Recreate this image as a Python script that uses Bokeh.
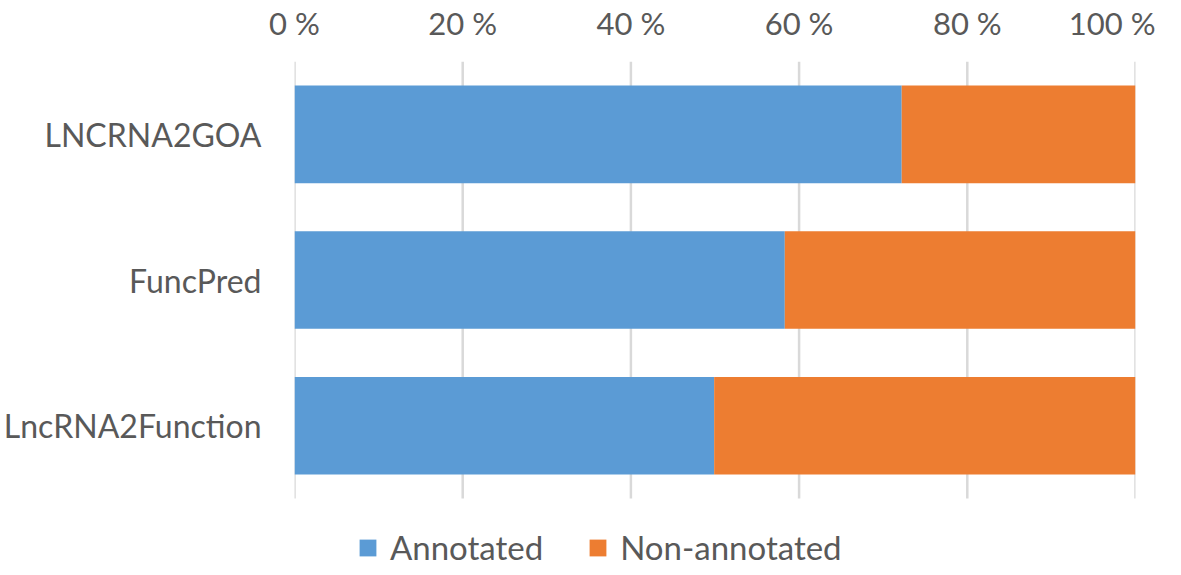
from bokeh.plotting import figure
from bokeh.models import (ColumnDataSource, Range1d, FixedTicker, Legend, LegendItem)
from bokeh.embed import file_html
from bokeh.resources import INLINE

# ---- data ----
methods = ["LncRNA2Function", "FuncPred", "LNCRNA2GOA"]   # bottom -> top
annotated = [49.9, 58.3, 72.2]
non_annotated = [50.1, 41.7, 27.8]
series = ["Annotated", "Non-annotated"]
tick_values = [0, 20, 40, 60, 80, 100]
tick_labels = ["0 %", "20 %", "40 %", "60 %", "80 %", "100 %"]

BLUE = "#5B9BD5"
ORANGE = "#ED7D31"
TXT = "#595959"
GRID = "#D9D9D9"
FONT = "Lato"
FS = "32px"

ypos = list(range(len(methods)))
n = len(methods)

source = ColumnDataSource(dict(y=ypos, method=methods, Annotated=annotated,
                               **{"Non-annotated": non_annotated}))

p = figure(frame_width=841, frame_height=506, output_backend="svg", toolbar_location=None,
           x_range=Range1d(0, 100), y_range=Range1d(n - 0.5 - 506 / 145.67, n - 0.5),
           x_axis_location="above", y_axis_location="left",
           min_border_left=288, min_border_right=20,
           min_border_top=59, min_border_bottom=0)
p.outline_line_color = None
p.background_fill_color = "white"
p.border_fill_color = "white"
p.xgrid.visible = False
p.ygrid.visible = False

# vertical gridlines spanning the category band
grid_src = ColumnDataSource(dict(x=tick_values, y0=[-0.5] * len(tick_values),
                                 y1=[n - 0.5] * len(tick_values)))
p.segment(x0="x", x1="x", y0="y0", y1="y1", source=grid_src,
          line_color=GRID, line_width=2.5)

renderers = p.hbar_stack(series, y="y", height=0.67, color=[BLUE, ORANGE],
                         line_color=None, source=source)

xa = p.xaxis[0]
xa.ticker = FixedTicker(ticks=tick_values)
xa.major_label_overrides = {v: l for v, l in zip(tick_values, tick_labels)}
xa.axis_line_color = None
xa.major_tick_line_color = None
xa.minor_tick_line_color = None
xa.major_tick_out = 0
xa.major_tick_in = 0
xa.major_label_standoff = 20
xa.major_label_text_font = FONT
xa.major_label_text_font_size = "31px"
xa.major_label_text_color = TXT

ya = p.yaxis[0]
ya.ticker = FixedTicker(ticks=ypos)
ya.major_label_overrides = {i: m for i, m in zip(ypos, methods)}
ya.axis_line_color = None
ya.major_tick_line_color = None
ya.minor_tick_line_color = None
ya.major_tick_out = 0
ya.major_tick_in = 0
ya.major_label_standoff = 33
ya.major_label_text_font = FONT
ya.major_label_text_font_size = FS
ya.major_label_text_color = TXT

lg = Legend(items=[LegendItem(label=s, renderers=[r]) for s, r in zip(series, renderers)])
lg.orientation = "horizontal"
lg.location = (63, 0)
lg.padding = 0
lg.margin = 0
lg.border_line_color = None
lg.background_fill_alpha = 0
lg.glyph_width = 21
lg.glyph_height = 21
lg.label_height = 20
lg.label_standoff = 12
lg.spacing = 44
lg.label_text_font = FONT
lg.label_text_font_size = "33px"
lg.label_text_color = TXT
p.add_layout(lg, "center")

open("out.html", "w").write(file_html(p, INLINE))
